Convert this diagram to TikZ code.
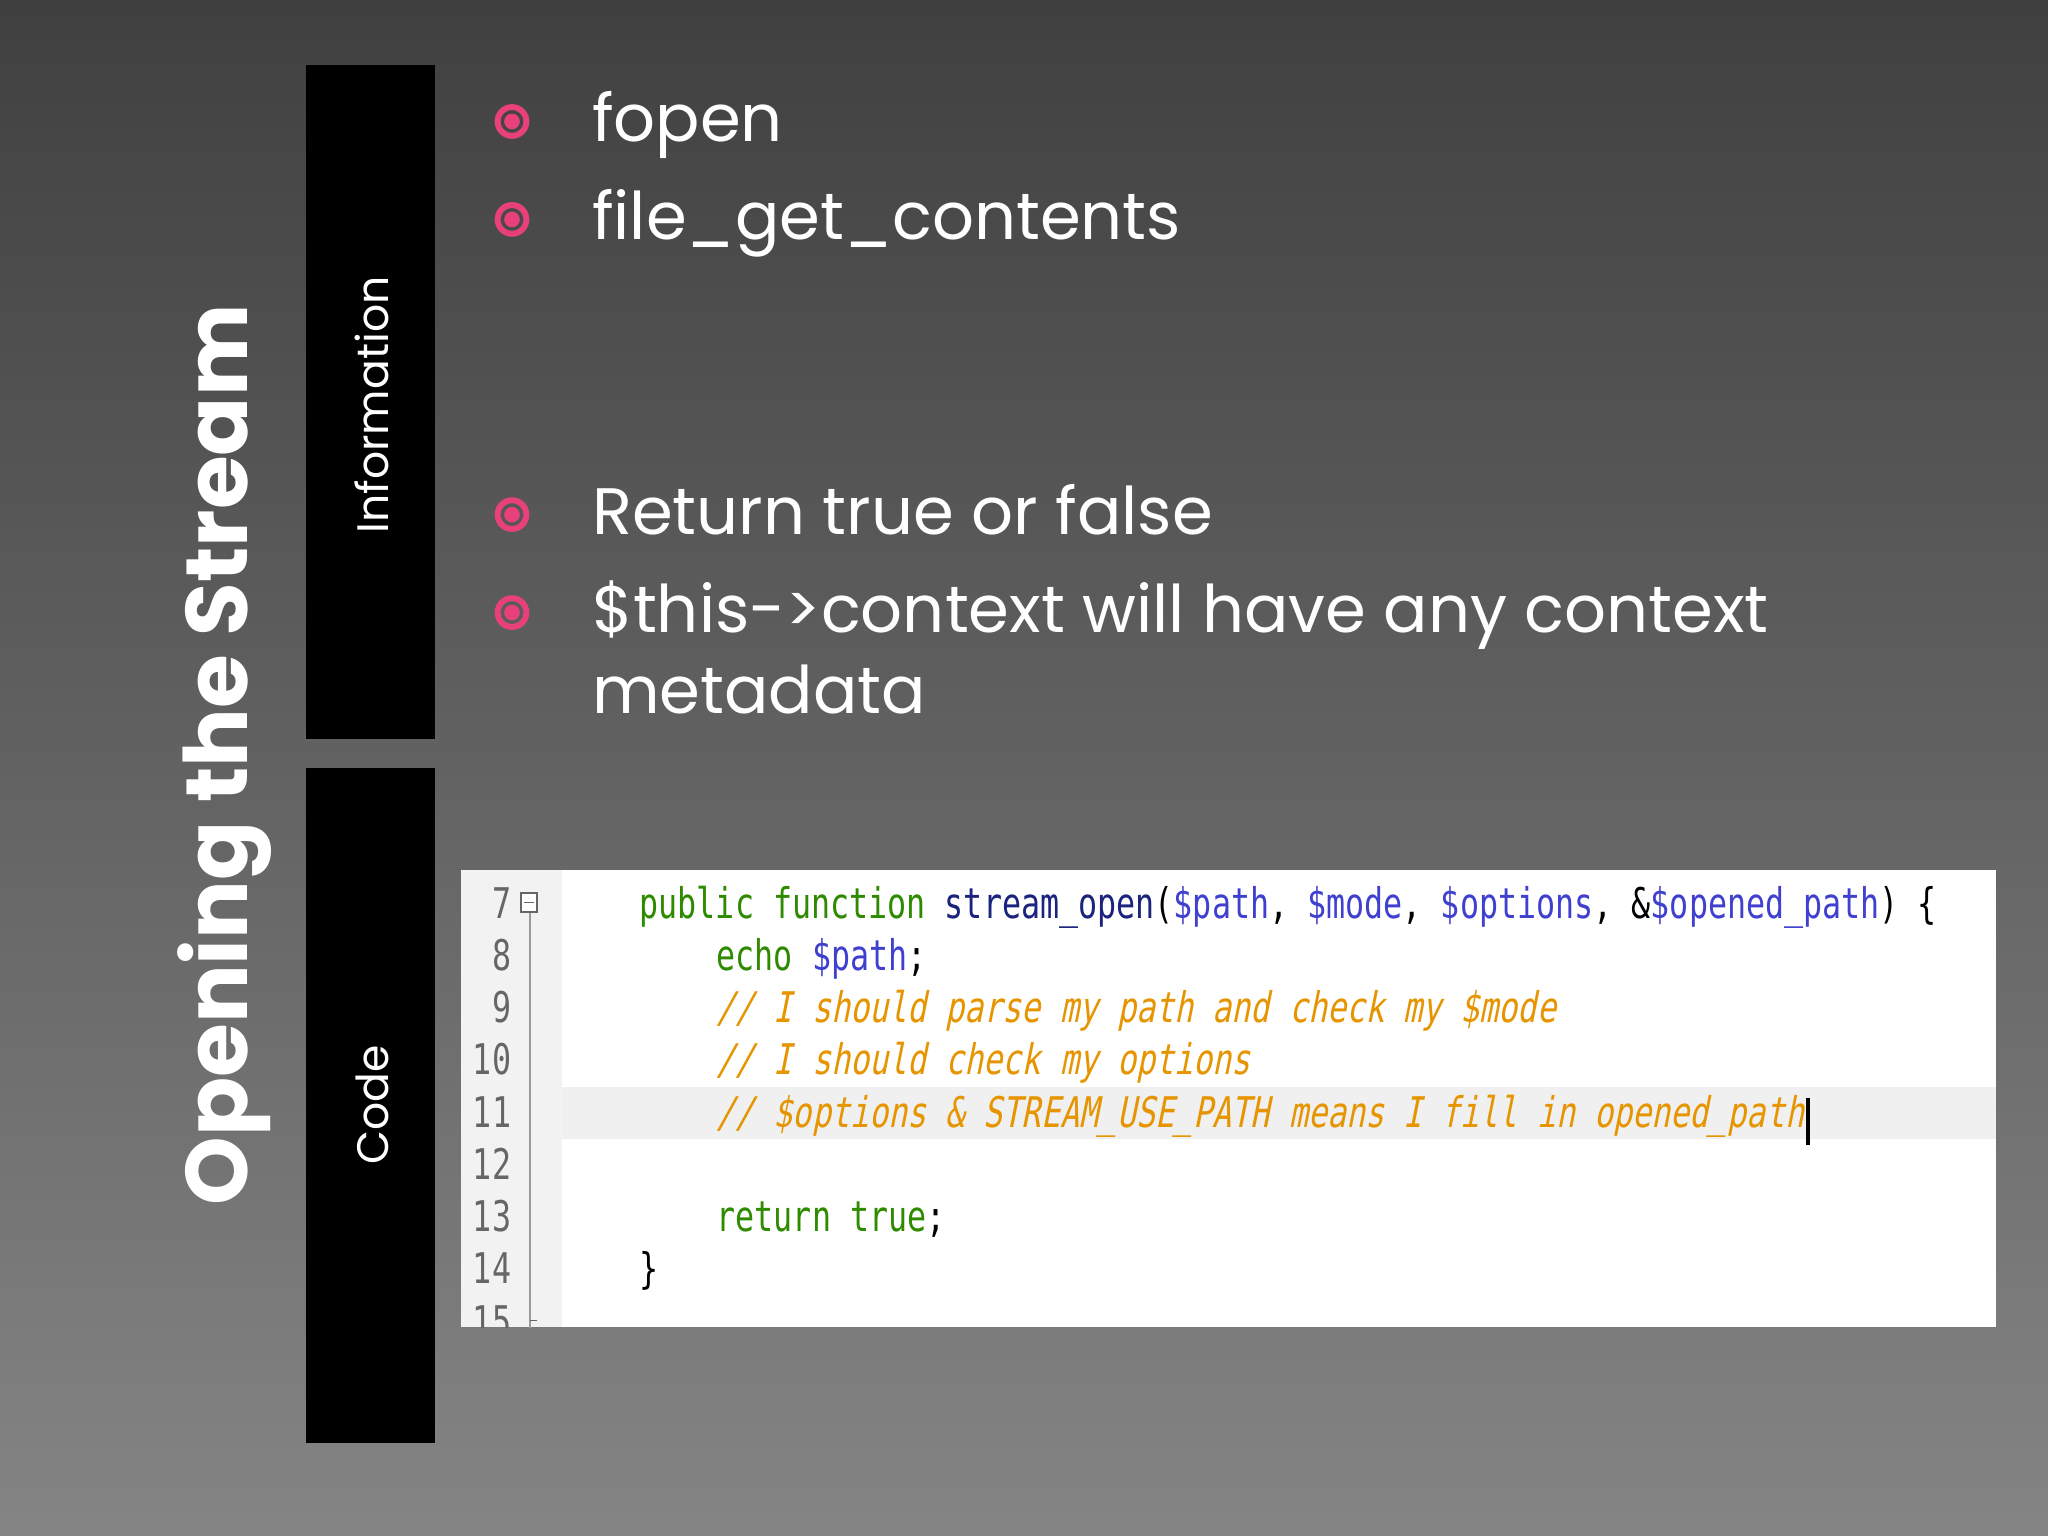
\documentclass[tikz,border=0pt]{standalone}
\usepackage{fontspec}
\setmainfont{Poppins}
\newfontfamily\codefont[FakeStretch=0.75]{DejaVu Sans Mono}
\newfontfamily\codeit[FakeStretch=0.75,FakeSlant=0.2]{DejaVu Sans Mono}
\definecolor{pinkb}{HTML}{E8407A}
\definecolor{kw}{HTML}{2E8B00}
\definecolor{fn}{HTML}{1A237E}
\definecolor{var}{HTML}{4040D0}
\definecolor{cm}{HTML}{E69500}
\definecolor{gut}{HTML}{F2F2F2}
\tikzset{
 bar/.style={fill=black,draw=none},
 barlabel/.style={text=white,rotate=90,font=\fontsize{9.6}{12}\selectfont},
 bul/.style={text=white,anchor=base west,font=\fontsize{14.3}{18}\selectfont},
 cl/.style={anchor=base west,inner sep=0pt,font=\codefont\fontsize{9.2}{11}\selectfont},
 ln/.style={anchor=base east,inner sep=0pt,text=gray!80!black,font=\codefont\fontsize{9.2}{11}\selectfont}
}
\newcommand{\bulmark}[1]{\draw[pinkb,line width=1.3pt] #1 circle (11); \fill[pinkb] #1 circle (6);}
\begin{document}
\begin{tikzpicture}[x=0.01cm,y=-0.01cm]
\shade[top color=black!75,bottom color=black!48] (0,0) rectangle (1568,1176);
\useasboundingbox (0,0) rectangle (1568,1176);
\node[text=white,rotate=90,font=\bfseries\fontsize{19}{22}\selectfont] (title) at (172,578) {Opening the Stream};
\fill[bar] (234,50) rectangle (333,566);
\fill[bar] (234,588) rectangle (333,1105);
\node[barlabel] (info) at (285,310) {Information};
\node[barlabel] (code) at (285,846) {Code};
\bulmark{(392,93)}\bulmark{(392,168)}\bulmark{(392,394)}\bulmark{(392,469)}
\node[bul] (b1) at (441,108) {fopen};
\node[bul] (b2) at (441,183) {file\_get\_contents};
\node[bul] (b3) at (441,409) {Return true or false};
\node[bul] (b4) at (441,484) {\$this->context will have any context};
\node[bul] (b5) at (441,546) {metadata};
% code box
\begin{scope}
\clip (353,666) rectangle (1528,1016);
\fill[white] (353,666) rectangle (1528,1016);
\fill[gut] (353,666) rectangle (430,1016);
\fill[black!6] (430,832) rectangle (1528,872);
\draw[black!40] (406,691) -- (406,1030);
\draw[black!60,fill=white] (399,684) rectangle (411,698);
\draw[black!60] (401,691) -- (409,691);
\draw[black!60] (406,1011) -- (411,1011);
\foreach \n [count=\i from 0] in {7,...,15}
  \node[ln] (n\n) at (392,703+40*\i) {\n};
\node[cl] (c7) at (489,703) {\textcolor{kw}{public function} \textcolor{fn}{stream\_open}(\textcolor{var}{\$path}, \textcolor{var}{\$mode}, \textcolor{var}{\$options}, \&\textcolor{var}{\$opened\_path}) \{};
\node[cl] (c8) at (548,743) {\textcolor{kw}{echo} \textcolor{var}{\$path};};
\node[cl,text=cm,font=\codeit\fontsize{9.2}{11}\selectfont] (c9) at (548,783) {// I should parse my path and check my \$mode};
\node[cl,text=cm,font=\codeit\fontsize{9.2}{11}\selectfont] (c10) at (548,823) {// I should check my options};
\node[cl,text=cm,font=\codeit\fontsize{9.2}{11}\selectfont] (c11) at (548,863) {// \$options \& STREAM\_USE\_PATH means I fill in opened\_path};
\draw[black,line width=0.8pt] (c11.east)++(2,-14) -- ++(0,36);
\node[cl] (c13) at (548,943) {\textcolor{kw}{return true};};
\node[cl] (c14) at (489,983) {\}};
\end{scope}
\end{tikzpicture}
\end{document}
